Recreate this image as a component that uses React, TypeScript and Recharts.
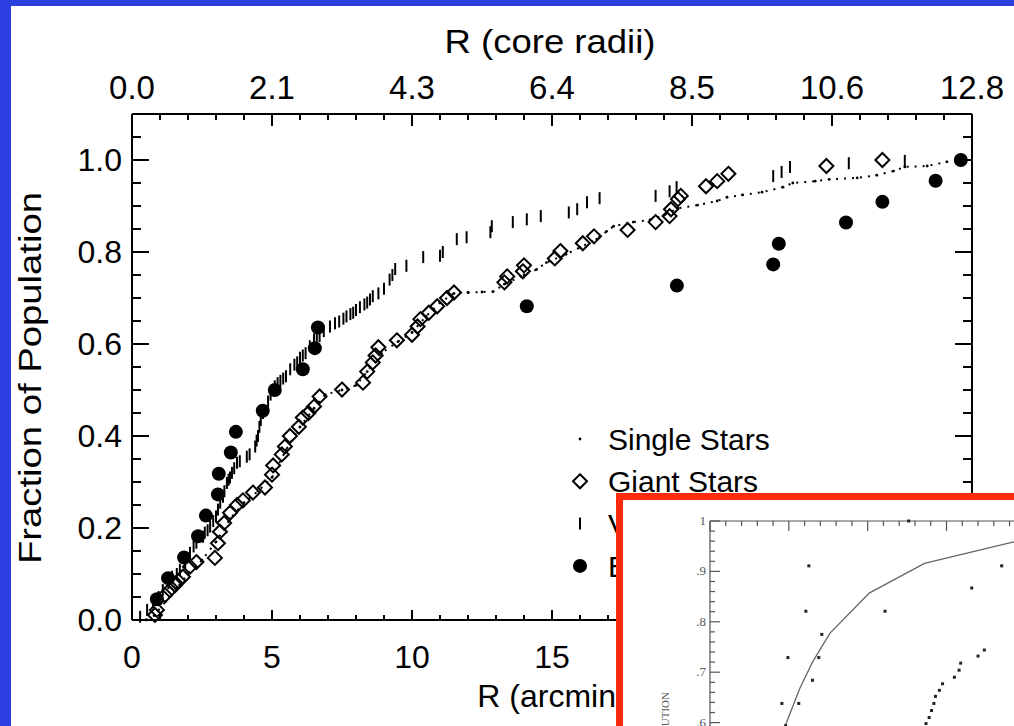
import React from "react";
import {
  ScatterChart,
  ComposedChart,
  Scatter,
  Line,
  XAxis,
  YAxis,
  Label,
  Legend,
} from "recharts";

// ── Theme ─────────────────────────────────────────────────────────────────────
const SLIDE_BLUE = "#2b3ee0";
const INSET_RED  = "#fe2c0c";
const INK        = "#000000";
const GREY_INK   = "#555555";
const SANS       = "'Liberation Sans', Arial, Helvetica, sans-serif";
const SERIF      = "'Liberation Serif', 'Times New Roman', serif";

// ── Data (R in arcmin, cumulative fraction) ──────────────────────────────────
const singleX = [0.5, 0.8, 1.2, 1.6, 2.0, 2.5, 3.0, 3.5, 4.0, 4.5, 5.0, 5.5, 6.0, 6.5, 6.9, 7.5, 8.0, 8.4, 8.9, 9.5, 10.0, 10.5, 11.0, 11.5, 12.0, 12.5, 12.9, 13.3, 14.0, 14.45, 14.8, 15.5, 16.0, 16.6, 16.95, 17.2, 17.9, 18.5, 19.0, 19.5, 20.2, 20.9, 21.25, 21.8, 22.5, 23.25, 23.6, 24.4, 24.9, 25.9, 26.6, 27.2, 27.6, 28.4, 29.1, 29.6];
const singleY = [0.0, 0.01, 0.04, 0.07, 0.1, 0.13, 0.17, 0.22, 0.255, 0.28, 0.31, 0.37, 0.42, 0.46, 0.49, 0.5, 0.51, 0.54, 0.58, 0.605, 0.625, 0.66, 0.69, 0.71, 0.712, 0.713, 0.714, 0.73, 0.75, 0.762, 0.777, 0.795, 0.81, 0.828, 0.845, 0.856, 0.865, 0.87, 0.88, 0.895, 0.902, 0.911, 0.919, 0.924, 0.93, 0.941, 0.95, 0.954, 0.958, 0.961, 0.967, 0.976, 0.985, 0.987, 0.996, 1.0];

const giantX = [0.82, 0.89, 1.18, 1.35, 1.54, 1.65, 1.82, 2.07, 2.3, 2.96, 3.07, 3.14, 3.29, 3.5, 3.75, 3.96, 4.32, 4.75, 5.0, 5.04, 5.35, 5.46, 5.64, 5.96, 6.1, 6.3, 6.5, 6.7, 7.5, 8.25, 8.4, 8.6, 8.7, 8.8, 9.46, 10.0, 10.2, 10.3, 10.6, 10.9, 11.25, 11.5, 13.3, 13.4, 13.96, 14.0, 15.1, 15.3, 16.1, 16.5, 17.7, 18.7, 19.2, 19.25, 19.5, 19.6, 20.5, 20.9, 21.3, 24.8, 26.8];
const giantY = [0.011, 0.022, 0.054, 0.065, 0.076, 0.085, 0.094, 0.116, 0.126, 0.135, 0.167, 0.192, 0.211, 0.233, 0.25, 0.26, 0.277, 0.288, 0.316, 0.336, 0.36, 0.377, 0.4, 0.42, 0.44, 0.45, 0.464, 0.486, 0.501, 0.516, 0.54, 0.56, 0.575, 0.593, 0.608, 0.62, 0.638, 0.654, 0.668, 0.682, 0.7, 0.712, 0.734, 0.747, 0.758, 0.771, 0.786, 0.802, 0.819, 0.834, 0.848, 0.865, 0.878, 0.893, 0.915, 0.922, 0.943, 0.954, 0.97, 0.987, 1.0];

const variableX = [0.29, 0.54, 0.75, 0.95, 1.1, 1.3, 1.43, 1.6, 1.71, 1.9, 2.07, 2.2, 2.3, 2.54, 2.6, 2.7, 2.79, 2.9, 3.0, 3.07, 3.15, 3.25, 3.3, 3.39, 3.45, 3.5, 3.57, 3.65, 3.75, 3.85, 4.1, 4.2, 4.4, 4.45, 4.5, 4.55, 4.6, 4.68, 4.86, 4.95, 5.0, 5.1, 5.2, 5.3, 5.4, 5.5, 5.65, 5.8, 5.9, 6.0, 6.1, 6.2, 6.35, 6.5, 6.6, 6.7, 6.85, 7.07, 7.25, 7.4, 7.55, 7.66, 7.8, 7.9, 8.0, 8.14, 8.3, 8.4, 8.5, 8.6, 8.8, 9.0, 9.2, 9.3, 9.4, 9.8, 10.4, 11.0, 11.1, 11.6, 11.95, 12.8, 12.85, 13.6, 14.1, 14.6, 15.6, 15.9, 16.25, 16.7, 18.7, 19.2, 19.45, 22.9, 23.2, 23.5, 25.6, 27.6];
const variableY = [0.007, 0.022, 0.039, 0.05, 0.065, 0.08, 0.094, 0.1, 0.109, 0.125, 0.146, 0.16, 0.168, 0.181, 0.19, 0.195, 0.203, 0.215, 0.225, 0.24, 0.255, 0.268, 0.28, 0.298, 0.305, 0.31, 0.32, 0.33, 0.342, 0.345, 0.355, 0.36, 0.377, 0.39, 0.4, 0.42, 0.435, 0.45, 0.475, 0.49, 0.5, 0.508, 0.515, 0.52, 0.525, 0.53, 0.545, 0.555, 0.56, 0.57, 0.575, 0.58, 0.595, 0.61, 0.612, 0.617, 0.628, 0.638, 0.645, 0.649, 0.655, 0.66, 0.665, 0.668, 0.674, 0.68, 0.686, 0.69, 0.697, 0.704, 0.71, 0.72, 0.74, 0.75, 0.763, 0.77, 0.789, 0.792, 0.8, 0.828, 0.832, 0.843, 0.856, 0.865, 0.871, 0.878, 0.886, 0.893, 0.908, 0.917, 0.922, 0.932, 0.941, 0.965, 0.974, 0.985, 0.993, 0.998];

const blueX = [0.89, 1.29, 1.86, 2.36, 2.64, 3.07, 3.1, 3.53, 3.71, 4.67, 5.1, 6.1, 6.53, 6.64, 14.1, 19.46, 22.9, 23.1, 25.5, 26.8, 28.7, 29.6];
const blueY = [0.045, 0.091, 0.136, 0.182, 0.227, 0.273, 0.318, 0.364, 0.409, 0.455, 0.5, 0.545, 0.591, 0.636, 0.682, 0.727, 0.773, 0.818, 0.864, 0.909, 0.955, 1.0];

const legendNames = ["Single Stars", "Giant Stars", "Variable Stars", "Blue Stragglers"];

// ── Axis ticks ────────────────────────────────────────────────────────────────
const xTicks     = [0, 1, 2, 3, 4, 5, 6, 7, 8, 9, 10, 11, 12, 13, 14, 15, 16, 17, 18, 19, 20, 21, 22, 23, 24, 25, 26, 27, 28, 29, 30];
const xMajor     = [0, 5, 10, 15, 20, 25, 30];
const coreLabels = ["0.0", "2.1", "4.3", "6.4", "8.5", "10.6", "12.8"];
const yTicks     = [0, 0.05, 0.1, 0.15, 0.2, 0.25, 0.3, 0.35, 0.4, 0.45, 0.5, 0.55, 0.6, 0.65, 0.7, 0.75, 0.8, 0.85, 0.9, 0.95, 1.0, 1.05];
const yMajor     = [0, 0.2, 0.4, 0.6, 0.8, 1.0];
const yLabels    = ["0.0", "0.2", "0.4", "0.6", "0.8", "1.0"];

// ── Inset (scanned comparison plot) ──────────────────────────────────────────
const insetCurveX = [4.0, 4.75, 5.7, 6.5, 7.6, 10.1, 13.6, 19.2, 24.0];
const insetCurveY = [0.5, 0.592, 0.668, 0.72, 0.777, 0.857, 0.916, 0.958, 0.975];
const insetPtX = [6.27, 6.08, 7.09, 4.94, 6.9, 6.5, 4.56, 5.63, 4.8, 11.1, 12.6, 18.5, 16.6, 17.4, 17.0, 15.9, 15.8, 15.5, 14.75, 14.55, 14.3, 14.2, 14.05, 13.9, 13.7];
const insetPtY = [0.911, 0.821, 0.775, 0.729, 0.729, 0.684, 0.638, 0.638, 0.594, 0.821, 1.0, 0.911, 0.867, 0.744, 0.732, 0.718, 0.704, 0.69, 0.677, 0.664, 0.652, 0.638, 0.624, 0.61, 0.598];
const insetXTicks = [0, 1, 2, 3, 4, 5, 6, 7, 8, 9, 10, 11, 12, 13, 14, 15, 16, 17, 18, 19, 20, 21, 22, 23, 24, 25, 26, 27, 28, 29, 30];
const insetYTicks = [0.5, 0.52, 0.54, 0.56, 0.58, 0.6, 0.62, 0.64, 0.66, 0.68, 0.7, 0.72, 0.74, 0.76, 0.78, 0.8, 0.82, 0.84, 0.86, 0.88, 0.9, 0.92, 0.94, 0.96, 0.98, 1.0];
const insetYMajor  = [0.6, 0.7, 0.8, 0.9, 1.0];
const insetYLabels = [".6", ".7", ".8", ".9", "1"];

const zip = (xs: number[], ys: number[]) => xs.map((x, i) => ({ x, y: ys[i] }));

const singlePts   = zip(singleX, singleY);
const giantPts    = zip(giantX, giantY);
const variablePts = zip(variableX, variableY);
const bluePts     = zip(blueX, blueY);
const insetCurve  = zip(insetCurveX, insetCurveY);
const insetPts    = zip(insetPtX, insetPtY);

const near = (list: number[], v: number) => list.findIndex((m) => Math.abs(m - v) < 1e-6);

// ── Tick renderers (ticks point into the plot box) ───────────────────────────
function BottomTick({ x, y, payload }: any) {
  const i = near(xMajor, payload.value);
  return (
    <g>
      <line x1={x} x2={x} y1={y} y2={y - (i >= 0 ? 10 : 5)} stroke={INK} strokeWidth={2} />
      {i >= 0 && (
        <text x={x} y={y + 48} textAnchor="middle" fontSize={32} fontFamily={SANS} fill={INK}>
          {payload.value}
        </text>
      )}
    </g>
  );
}

function TopTick({ x, y, payload }: any) {
  const i = near(xMajor, payload.value);
  return (
    <g>
      <line x1={x} x2={x} y1={y} y2={y + (i >= 0 ? 12 : 6)} stroke={INK} strokeWidth={2} />
      {i >= 0 && (
        <text x={x} y={y - 15} textAnchor="middle" fontSize={33} fontFamily={SANS} fill={INK}>
          {coreLabels[i]}
        </text>
      )}
    </g>
  );
}

function LeftTick({ x, y, payload }: any) {
  const i = near(yMajor, payload.value);
  return (
    <g>
      <line x1={x} x2={x + (i >= 0 ? 17 : 9)} y1={y} y2={y} stroke={INK} strokeWidth={2} />
      {i >= 0 && (
        <text x={x - 10} y={y + 11} textAnchor="end" fontSize={32} fontFamily={SANS} fill={INK}>
          {yLabels[i]}
        </text>
      )}
    </g>
  );
}

function RightTick({ x, y, payload }: any) {
  const i = near(yMajor, payload.value);
  return <line x1={x} x2={x - (i >= 0 ? 17 : 9)} y1={y} y2={y} stroke={INK} strokeWidth={2} />;
}

// ── Marker shapes ─────────────────────────────────────────────────────────────
const DotShape = ({ cx, cy }: any) => <circle cx={cx} cy={cy} r={1.4} fill={INK} />;
const DiamondShape = ({ cx, cy }: any) => (
  <path
    d={`M${cx},${cy - 7} L${cx + 7},${cy} L${cx},${cy + 7} L${cx - 7},${cy} Z`}
    fill="none"
    stroke={INK}
    strokeWidth={2}
  />
);
const BarShape = ({ cx, cy }: any) => (
  <line x1={cx} x2={cx} y1={cy - 6} y2={cy + 6} stroke={INK} strokeWidth={2} />
);
const BallShape = ({ cx, cy }: any) => <circle cx={cx} cy={cy} r={7} fill={INK} />;
// keeps the mirrored top/right axes bound to data without drawing anything
const NoShape = () => <g />;

function LegendMarker({ idx, cx, cy }: { idx: number; cx: number; cy: number }) {
  if (idx === 0) return <DotShape cx={cx} cy={cy} />;
  if (idx === 1) return <DiamondShape cx={cx} cy={cy} />;
  if (idx === 2) return <BarShape cx={cx} cy={cy} />;
  return <BallShape cx={cx} cy={cy} />;
}

function StarLegend() {
  return (
    <svg width={400} height={175}>
      {legendNames.map((name, i) => {
        const cy = 24 + i * 42.3;
        return (
          <g key={name}>
            <LegendMarker idx={i} cx={20} cy={cy} />
            <text x={48} y={cy + 11} fontSize={30} fontFamily={SANS} fill={INK}>
              {name}
            </text>
          </g>
        );
      })}
    </svg>
  );
}

// ── Inset ticks ───────────────────────────────────────────────────────────────
function InsetTopTick({ x, y, payload }: any) {
  const major = payload.value % 5 === 0;
  return <line x1={x} x2={x} y1={y} y2={y + (major ? 10 : 5)} stroke={GREY_INK} strokeWidth={1.2} />;
}

function InsetLeftTick({ x, y, payload }: any) {
  const i = near(insetYMajor, payload.value);
  return (
    <g>
      <line x1={x} x2={x + (i >= 0 ? 10 : 5)} y1={y} y2={y} stroke={GREY_INK} strokeWidth={1.2} />
      {i >= 0 && (
        <text x={x - 4} y={y + 4} textAnchor="end" fontSize={13} fontFamily={SERIF} fill={GREY_INK}>
          {insetYLabels[i]}
        </text>
      )}
    </g>
  );
}

const InsetMark = ({ cx, cy }: any) => (
  <rect x={cx - 1.5} y={cy - 1.5} width={3} height={3} fill="#222" />
);

function InsetPlot() {
  return (
    <div
      style={{
        position:   "absolute",
        left:       616,
        top:        493,
        width:      420,
        height:     260,
        boxSizing:  "border-box",
        border:     `7px solid ${INSET_RED}`,
        background: "#ffffff",
        overflow:   "hidden",
      }}
    >
      <ComposedChart width={560} height={300} margin={{ top: 20, right: 0, bottom: 27, left: 47 }}>
        <XAxis
          xAxisId="top"
          orientation="top"
          type="number"
          dataKey="x"
          domain={[0, 30]}
          ticks={insetXTicks}
          interval={0}
          height={1}
          tickSize={0}
          tickMargin={0}
          tick={<InsetTopTick />}
          axisLine={{ stroke: GREY_INK, strokeWidth: 1.2 }}
        />
        <YAxis
          yAxisId="left"
          type="number"
          dataKey="y"
          domain={[0.5, 1]}
          ticks={insetYTicks}
          interval={0}
          width={40}
          tickSize={0}
          tickMargin={0}
          tick={<InsetLeftTick />}
          axisLine={{ stroke: GREY_INK, strokeWidth: 1.2 }}
        >
          <Label
            content={() => (
              <text
                x={46}
                y={192}
                transform="rotate(-90, 46, 192)"
                textAnchor="end"
                fontSize={11}
                fontFamily={SERIF}
                fill={GREY_INK}
              >
                DISTRIBUTION
              </text>
            )}
          />
        </YAxis>
        <Line
          xAxisId="top"
          yAxisId="left"
          data={insetCurve}
          dataKey="y"
          type="linear"
          stroke="#666"
          strokeWidth={1.3}
          dot={false}
          isAnimationActive={false}
        />
        <Scatter
          xAxisId="top"
          yAxisId="left"
          data={insetPts}
          dataKey="y"
          shape={<InsetMark />}
          isAnimationActive={false}
        />
      </ComposedChart>
    </div>
  );
}

// ── Main ─────────────────────────────────────────────────────────────────────
export default function App() {
  return (
    <div
      style={{
        position:   "fixed",
        left:       0,
        top:        0,
        width:      1014,
        height:     726,
        overflow:   "hidden",
        background: SLIDE_BLUE,
      }}
    >
      <div style={{ position: "absolute", left: 11, top: 6, right: 0, bottom: 0, background: "#ffffff" }} />
      <div style={{ position: "absolute", left: 0, top: 0 }}>
        <ScatterChart width={1014} height={726} margin={{ top: 14, right: 12, bottom: 6, left: 12 }}>
          <XAxis
            xAxisId="bottom"
            orientation="bottom"
            type="number"
            dataKey="x"
            domain={[0, 30]}
            ticks={xTicks}
            interval={0}
            height={100}
            tickSize={0}
            tickMargin={0}
            tick={<BottomTick />}
            axisLine={{ stroke: INK, strokeWidth: 2 }}
          >
            <Label
              content={() => (
                <text x={552} y={707} textAnchor="middle" fontSize={32} fontFamily={SANS} fill={INK}>
                  R (arcmin)
                </text>
              )}
            />
          </XAxis>
          <XAxis
            xAxisId="top"
            orientation="top"
            type="number"
            dataKey="x"
            domain={[0, 30]}
            ticks={xTicks}
            interval={0}
            height={100}
            tickSize={0}
            tickMargin={0}
            tick={<TopTick />}
            axisLine={{ stroke: INK, strokeWidth: 2 }}
          >
            <Label
              content={() => (
                <text
                  x={550}
                  y={53}
                  textAnchor="middle"
                  fontSize={33}
                  fontFamily={SANS}
                  fill={INK}
                  textLength={211}
                  lengthAdjust="spacingAndGlyphs"
                >
                  R (core radii)
                </text>
              )}
            />
          </XAxis>
          <YAxis
            yAxisId="left"
            orientation="left"
            type="number"
            dataKey="y"
            domain={[0, 1.1]}
            ticks={yTicks}
            interval={0}
            width={120}
            tickSize={0}
            tickMargin={0}
            tick={<LeftTick />}
            axisLine={{ stroke: INK, strokeWidth: 2 }}
          >
            <Label
              content={() => (
                <text
                  x={41}
                  y={378}
                  transform="rotate(-90, 41, 378)"
                  textAnchor="middle"
                  fontSize={32}
                  fontFamily={SANS}
                  fill={INK}
                  textLength={372}
                  lengthAdjust="spacingAndGlyphs"
                >
                  Fraction of Population
                </text>
              )}
            />
          </YAxis>
          <YAxis
            yAxisId="right"
            orientation="right"
            type="number"
            dataKey="y"
            domain={[0, 1.1]}
            ticks={yTicks}
            interval={0}
            width={30}
            tickSize={0}
            tickMargin={0}
            tick={<RightTick />}
            axisLine={{ stroke: INK, strokeWidth: 2 }}
          />
          <Legend
            layout="horizontal"
            verticalAlign="middle"
            align="center"
            content={<StarLegend />}
            wrapperStyle={{ left: 560, top: 415, width: 400, height: 175 }}
          />
          <Scatter
            name="Single Stars"
            xAxisId="bottom"
            yAxisId="left"
            data={singlePts}
            dataKey="y"
            line={{ stroke: INK, strokeWidth: 2, strokeDasharray: "2 6" }}
            lineType="joint"
            shape={<DotShape />}
            isAnimationActive={false}
          />
          <Scatter
            name="Variable Stars"
            xAxisId="bottom"
            yAxisId="left"
            data={variablePts}
            dataKey="y"
            shape={<BarShape />}
            isAnimationActive={false}
          />
          <Scatter
            name="Giant Stars"
            xAxisId="bottom"
            yAxisId="left"
            data={giantPts}
            dataKey="y"
            shape={<DiamondShape />}
            isAnimationActive={false}
          />
          <Scatter
            name="Blue Stragglers"
            xAxisId="bottom"
            yAxisId="left"
            data={bluePts}
            dataKey="y"
            shape={<BallShape />}
            isAnimationActive={false}
          />
          <Scatter
            name="mirror"
            xAxisId="top"
            yAxisId="right"
            data={bluePts}
            dataKey="y"
            shape={<NoShape />}
            legendType="none"
            isAnimationActive={false}
          />
        </ScatterChart>
      </div>
      <InsetPlot />
    </div>
  );
}
